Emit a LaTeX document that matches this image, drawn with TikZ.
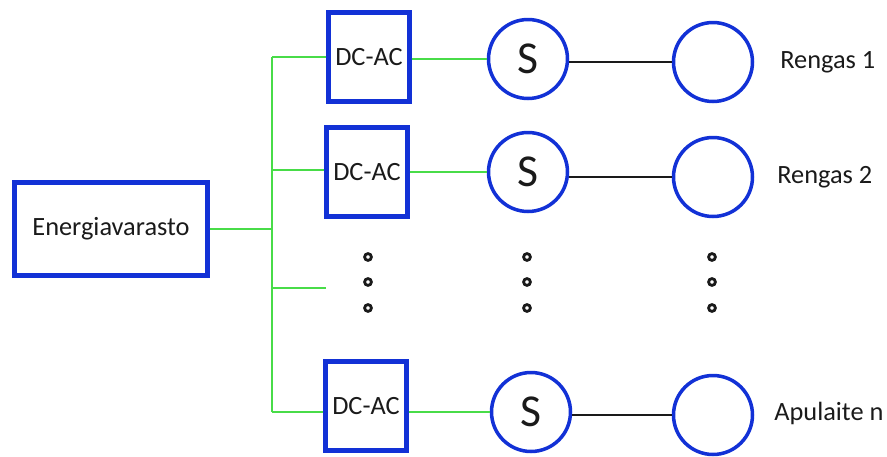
\documentclass[tikz,border=0pt]{standalone}
\usepackage{fontspec}
\setmainfont{Carlito}
\usetikzlibrary{positioning}
\definecolor{c1}{HTML}{1231D6}
\definecolor{c2}{HTML}{48DC48}
\definecolor{c3}{HTML}{1A1A1A}

\begin{document}
\begin{tikzpicture}[
    x=0.02cm, y=-0.02cm,
    every node/.style={font=\fontsize{15}{17}\selectfont, text=c3},
    box/.style={rectangle, draw=c1, line width=2.4pt, inner sep=0pt},
    conv/.style={box, minimum width=1.62cm, minimum height=1.78cm},
    sw/.style={circle, draw=c1, line width=2pt, minimum size=1.58cm, inner sep=0pt,
        font=\fontsize{26}{28}\selectfont},
    load/.style={circle, draw=c1, line width=2pt, minimum size=1.58cm, inner sep=0pt},
    lab/.style={anchor=west, inner sep=0pt},
    bus/.style={c2, line width=1.6pt},
    wire/.style={c3, line width=1.6pt},
    dot/.style={c3, line width=1.6pt, fill=white},
]
\useasboundingbox (0,0) rectangle (887,457);

% ============================================================ storage and bus
\node[box, minimum width=3.86cm, minimum height=1.86cm] (ev) at (111,229) {Energiavarasto};

\coordinate (btop) at (272,57);
\coordinate (bbot) at (272,412);
\coordinate (b1) at (272,57);
\coordinate (b2) at (272,170);
\coordinate (b3) at (272,288);
\coordinate (b4) at (272,412);
\coordinate (stub) at (326,288);

\draw[bus] (ev.east) -- (ev.east -| btop);
\draw[bus] (btop) -- (bbot);
\draw[bus] (b3) -- (stub);

% ============================================================ the branches
\node[conv] (dc1) at (369,57) {DC-AC};
\node[conv] (dc2) at (367,172) {DC-AC};
\node[conv] (dc3) at (366,406) {DC-AC};

\node[sw] (s1) at (528,59) {S};
\node[sw] (s2) at (528,172) {S};
\node[sw] (s3) at (531,412) {S};

\node[load] (r1) at (713,62) {};
\node[load] (r2) at (713,177) {};
\node[load] (r3) at (713,415) {};

\node[lab] (l1) at (780,62) {Rengas 1};
\node[lab] (l2) at (777,177) {Rengas 2};
\node[lab] (l3) at (774,413) {Apulaite n};

\draw[bus] (b1) -- (b1 -| dc1.west);
\draw[bus] (b2) -- (b2 -| dc2.west);
\draw[bus] (b4) -- (b4 -| dc3.west);

\draw[bus] (dc1.east |- s1.west) -- (s1.west);
\draw[bus] (dc2.east |- s2.west) -- (s2.west);
\draw[bus] (dc3.east |- s3.west) -- (s3.west);

\draw[wire] (s1.east |- r1.west) -- (r1.west);
\draw[wire] (s2.east |- r2.west) -- (r2.west);
\draw[wire] (s3.east |- r3.west) -- (r3.west);

% ============================================================ more of the same
\foreach \x in {368, 527, 712}{
    \foreach \y in {257, 282, 308}{
        \draw[dot] (\x,\y) circle (3.4);
    }
}

\end{tikzpicture}
\end{document}
